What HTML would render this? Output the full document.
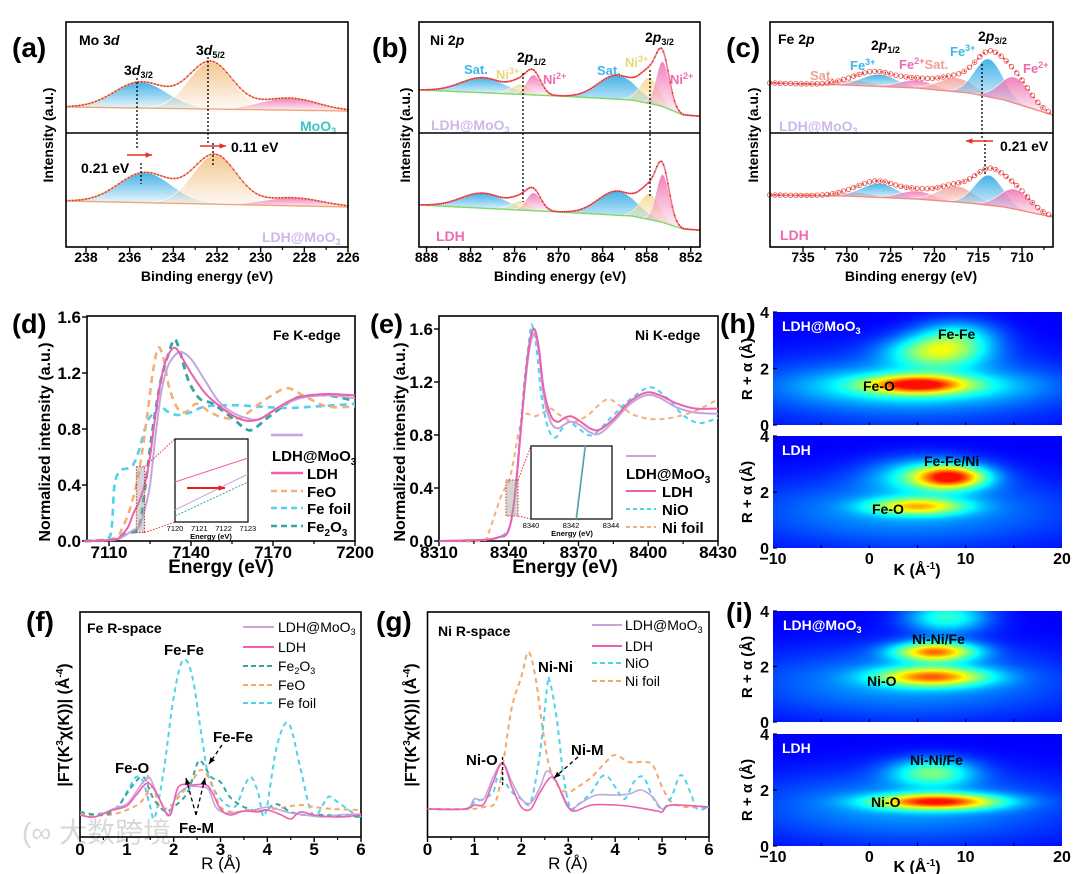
<!DOCTYPE html>
<html><head><meta charset="utf-8">
<style>
html,body{margin:0;padding:0;background:#fff;}
#wrap{position:relative;width:1080px;height:874px;overflow:hidden;font-family:"Liberation Sans",Arial,sans-serif;}
svg{position:absolute;left:0;top:0;}
canvas{position:absolute;}
text{font-family:"Liberation Sans",Arial,sans-serif;}
.b{font-weight:bold;}
</style></head>
<body>
<div id="wrap">
<canvas id="hm1" width="289" height="113" style="left:773px;top:312px"></canvas>
<canvas id="hm2" width="289" height="112" style="left:773px;top:436px"></canvas>
<canvas id="hm3" width="289" height="111" style="left:773px;top:611px"></canvas>
<canvas id="hm4" width="289" height="112" style="left:773px;top:734px"></canvas>
<svg id="fig" width="1080" height="874" viewBox="0 0 1080 874">
<defs id="defs"></defs>
<text x="22" y="842" font-size="28" fill="#d8d8d8" font-family="Liberation Sans, Noto Sans CJK SC, sans-serif">(∞ 大数跨境</text>
<text class="b" x="12" y="57" font-size="28">(a)</text>
<text class="b" x="372" y="57" font-size="28">(b)</text>
<text class="b" x="726" y="57" font-size="28">(c)</text>
<text class="b" x="12" y="333" font-size="27">(d)</text>
<text class="b" x="370" y="333" font-size="27">(e)</text>
<text class="b" x="26" y="631" font-size="28">(f)</text>
<text class="b" x="376" y="631" font-size="28">(g)</text>
<text class="b" x="720" y="333" font-size="28">(h)</text>
<text class="b" x="726" y="622" font-size="28">(i)</text>
<text class="b" font-size="14" transform="translate(53,135) rotate(-90)" text-anchor="middle">Intensity (a.u.)</text>
<text class="b" font-size="14" transform="translate(410,135) rotate(-90)" text-anchor="middle">Intensity (a.u.)</text>
<text class="b" font-size="14" transform="translate(758,135) rotate(-90)" text-anchor="middle">Intensity (a.u.)</text>
<text class="b" x="207" y="281" font-size="14" text-anchor="middle">Binding energy (eV)</text>
<text class="b" x="560" y="281" font-size="14" text-anchor="middle">Binding energy (eV)</text>
<text class="b" x="911" y="281" font-size="14" text-anchor="middle">Binding energy (eV)</text>
<text class="b" font-size="16" transform="translate(50,442) rotate(-90)" text-anchor="middle">Normalized intensity (a.u.)</text>
<text class="b" font-size="16" transform="translate(405,442) rotate(-90)" text-anchor="middle">Normalized intensity (a.u.)</text>
<text class="b" x="221" y="573" font-size="19" text-anchor="middle">Energy (eV)</text>
<text class="b" x="565" y="573" font-size="19" text-anchor="middle">Energy (eV)</text>
<text class="b" font-size="16" transform="translate(69,725) rotate(-90)" text-anchor="middle">|FT(K<tspan font-size="10" dy="-6">3</tspan><tspan dy="6">χ(K))| (Å</tspan><tspan font-size="10" dy="-6">-4</tspan><tspan dy="6">)</tspan></text>
<text class="b" font-size="16" transform="translate(416,725) rotate(-90)" text-anchor="middle">|FT(K<tspan font-size="10" dy="-6">3</tspan><tspan dy="6">χ(K))| (Å</tspan><tspan font-size="10" dy="-6">-4</tspan><tspan dy="6">)</tspan></text>
<text x="221" y="869" font-size="17" text-anchor="middle">R (Å)</text>
<text x="568" y="869" font-size="17" text-anchor="middle">R (Å)</text>
<text class="b" font-size="15" transform="translate(752,369) rotate(-90)" text-anchor="middle">R + α (Å)</text>
<text class="b" font-size="15" transform="translate(752,492) rotate(-90)" text-anchor="middle">R + α (Å)</text>
<text class="b" font-size="15" transform="translate(752,667) rotate(-90)" text-anchor="middle">R + α (Å)</text>
<text class="b" font-size="15" transform="translate(752,790) rotate(-90)" text-anchor="middle">R + α (Å)</text>
<text class="b" x="917" y="575" font-size="16" text-anchor="middle">K (Å<tspan font-size="10" dy="-6">-1</tspan><tspan dy="6">)</tspan></text>
<text class="b" x="917" y="872" font-size="16" text-anchor="middle">K (Å<tspan font-size="10" dy="-6">-1</tspan><tspan dy="6">)</tspan></text>
<text class="b" x="79" y="45" font-size="14">Mo 3<tspan font-style="italic">d</tspan></text>
<text class="b" x="124" y="75" font-size="14">3<tspan font-style="italic">d</tspan><tspan font-size="9" dy="3">3/2</tspan></text>
<text class="b" x="196" y="55" font-size="14">3<tspan font-style="italic">d</tspan><tspan font-size="9" dy="3">5/2</tspan></text>
<text class="b" x="300" y="131" font-size="14" fill="#3cc4c8">MoO<tspan font-size="9" dy="3">3</tspan></text>
<text class="b" x="262" y="242" font-size="14" fill="#cdb8ea">LDH@MoO<tspan font-size="9" dy="3">3</tspan></text>
<text class="b" x="81" y="173" font-size="14">0.21 eV</text>
<text class="b" x="231" y="152" font-size="14">0.11 eV</text>
<text class="b" x="430" y="45" font-size="14">Ni 2<tspan font-style="italic">p</tspan></text>
<text class="b" x="517" y="62" font-size="14">2<tspan font-style="italic">p</tspan><tspan font-size="9" dy="3">1/2</tspan></text>
<text class="b" x="645" y="42" font-size="14">2<tspan font-style="italic">p</tspan><tspan font-size="9" dy="3">3/2</tspan></text>
<text class="b" x="464" y="74" font-size="13" fill="#3cb7e8">Sat.</text>
<text class="b" x="496" y="79" font-size="13" fill="#e8d77a">Ni<tspan font-size="9" dy="-5">3+</tspan></text>
<text class="b" x="543" y="84" font-size="13" fill="#ee6ab0">Ni<tspan font-size="9" dy="-5">2+</tspan></text>
<text class="b" x="597" y="75" font-size="13" fill="#3cb7e8">Sat.</text>
<text class="b" x="625" y="67" font-size="13" fill="#e8d77a">Ni<tspan font-size="9" dy="-5">3+</tspan></text>
<text class="b" x="670" y="84" font-size="13" fill="#ee6ab0">Ni<tspan font-size="9" dy="-5">2+</tspan></text>
<text class="b" x="431" y="130" font-size="14" fill="#cdb8ea">LDH@MoO<tspan font-size="9" dy="3">3</tspan></text>
<text class="b" x="436" y="241" font-size="14" fill="#ee6ab0">LDH</text>
<text class="b" x="778" y="44" font-size="14">Fe 2<tspan font-style="italic">p</tspan></text>
<text class="b" x="871" y="50" font-size="14">2<tspan font-style="italic">p</tspan><tspan font-size="9" dy="3">1/2</tspan></text>
<text class="b" x="978" y="41" font-size="14">2<tspan font-style="italic">p</tspan><tspan font-size="9" dy="3">3/2</tspan></text>
<text class="b" x="850" y="70" font-size="13" fill="#3cb7e8">Fe<tspan font-size="9" dy="-5">3+</tspan></text>
<text class="b" x="899" y="69" font-size="13" fill="#ee6ab0">Fe<tspan font-size="9" dy="-5">2+</tspan><tspan dy="5" fill="#f0a09a">Sat.</tspan></text>
<text class="b" x="810" y="80" font-size="13" fill="#f0a09a">Sat.</text>
<text class="b" x="950" y="56" font-size="13" fill="#3cb7e8">Fe<tspan font-size="9" dy="-5">3+</tspan></text>
<text class="b" x="1023" y="73" font-size="13" fill="#ee6ab0">Fe<tspan font-size="9" dy="-5">2+</tspan></text>
<text class="b" x="779" y="131" font-size="14" fill="#cdb8ea">LDH@MoO<tspan font-size="9" dy="3">3</tspan></text>
<text class="b" x="780" y="240" font-size="14" fill="#ee6ab0">LDH</text>
<text class="b" x="1000" y="151" font-size="14">0.21 eV</text>
<text class="b" x="273" y="340" font-size="14">Fe K-edge</text>
<text class="b" x="635" y="340" font-size="14">Ni K-edge</text>
<text x="87" y="633" font-size="14" class="b">Fe R-space</text>
<text x="164" y="655" font-size="15" class="b">Fe-Fe</text>
<text x="115" y="773" font-size="15" class="b">Fe-O</text>
<text x="213" y="742" font-size="15" class="b">Fe-Fe</text>
<text x="179" y="833" font-size="15" class="b">Fe-M</text>
<text x="438" y="636" font-size="14" class="b">Ni R-space</text>
<text x="538" y="672" font-size="15" class="b">Ni-Ni</text>
<text x="466" y="765" font-size="15" class="b">Ni-O</text>
<text x="571" y="755" font-size="15" class="b">Ni-M</text>
<text class="b" x="782" y="331" font-size="14" fill="#fff">LDH@MoO<tspan font-size="9" dy="3">3</tspan></text>
<text class="b" x="938" y="339" font-size="14">Fe-Fe</text>
<text class="b" x="863" y="391" font-size="14">Fe-O</text>
<text class="b" x="782" y="455" font-size="14" fill="#fff">LDH</text>
<text class="b" x="924" y="466" font-size="14">Fe-Fe/Ni</text>
<text class="b" x="872" y="514" font-size="14">Fe-O</text>
<text class="b" x="783" y="630" font-size="14" fill="#fff">LDH@MoO<tspan font-size="9" dy="3">3</tspan></text>
<text class="b" x="912" y="644" font-size="14">Ni-Ni/Fe</text>
<text class="b" x="867" y="686" font-size="14">Ni-O</text>
<text class="b" x="782" y="753" font-size="14" fill="#fff">LDH</text>
<text class="b" x="910" y="765" font-size="14">Ni-Ni/Fe</text>
<text class="b" x="871" y="807" font-size="14">Ni-O</text>
</svg>
</div>
<script>
// ================= DATA =================
const aCenters=[235.5,232.3,228.7];
const aTopHeights=[26,47,12];
const aBotCenters=[235.3,232.1,228.5];
const aBotHeights=[30,49,8];
const aSigmas=[1.2,1.0,1.3];
const aBgX=[238.9,226];
const aTopBg=[4,0];
const aBotBg=[6,0];
const bCenters=[880.3,875.2,873.4,862.0,857.6,855.8];
const bTopHeights=[15,10,20,24,26,45];
const bBotHeights=[15,9,18,24,26,48];
const bSigmas=[3.0,1.3,1.0,2.6,1.3,0.9];
const bBgX=[889,870,860,856,853,851];
const bTopBg=[26,20,16,10,1,0];
const bBotBg=[25,18,14,8,1,0];
const cCenters=[729,726.3,722,717.5,713.8,710.8];
const cTopHeights=[5,12,8,14,38,26];
const cBotHeights=[4,14,8,16,30,20];
const cSigmas=[2,2,2,2,1.6,1.7];
const cBgX=[738.8,730,722,716,712,706.5];
const cTopBg=[32,30,27,22,15,0];
const cBotBg=[22,21,18,14,10,0];
const dLdhE=[7101,7112,7115,7117,7119,7121,7123,7125,7127,7129,7131,7134,7137,7140,7145,7150,7155,7160,7165,7170,7175,7180,7190,7200];
const dLdhY=[0,0.01,0.05,0.1,0.2,0.28,0.4,0.6,0.9,1.15,1.3,1.38,1.3,1.2,1.06,0.97,0.9,0.86,0.87,0.93,0.99,1.03,1.05,1.04];
const dMoE=[7101,7112,7115,7119,7121,7123,7125,7127,7129,7131,7133,7136,7140,7145,7150,7155,7160,7165,7172,7180,7190,7200];
const dMoY=[0,0.01,0.03,0.08,0.1,0.22,0.4,0.75,1.05,1.22,1.3,1.35,1.3,1.15,1.0,0.92,0.88,0.87,0.95,1.02,1.04,1.02];
const dFeOE=[7101,7112,7115,7118,7121,7124,7126,7128,7130,7132,7135,7138,7142,7147,7152,7158,7165,7172,7176,7182,7190,7200];
const dFeOY=[0,0.02,0.1,0.25,0.5,0.9,1.2,1.38,1.3,1.1,0.95,0.92,0.98,0.92,0.88,0.88,0.98,1.07,1.09,1.03,0.96,0.96];
const dFoilE=[7101,7109,7111,7112,7114,7117,7119,7121,7124,7127,7129,7131,7135,7140,7145,7155,7165,7175,7185,7200];
const dFoilY=[0,0.01,0.1,0.4,0.5,0.52,0.55,0.65,0.85,0.93,0.97,0.93,0.9,0.92,0.96,0.97,0.96,0.95,0.96,0.98];
const dFe2O3E=[7101,7112,7115,7118,7121,7123,7126,7129,7132,7134,7136,7139,7143,7148,7155,7160,7163,7168,7175,7180,7190,7200];
const dFe2O3Y=[0,0.01,0.04,0.06,0.1,0.35,0.8,1.15,1.35,1.44,1.35,1.15,1.02,0.98,0.88,0.8,0.8,0.88,0.98,1.03,1.04,1.0];
const eLdhE=[8310,8330,8336,8339,8341,8343,8345,8347,8349,8351,8353,8355,8358,8361,8364,8367,8371,8375,8379,8385,8392,8399,8405,8412,8420,8430];
const eLdhY=[0,0.01,0.03,0.05,0.15,0.4,0.8,1.2,1.5,1.6,1.45,1.15,0.95,0.9,0.93,0.94,0.9,0.85,0.84,0.92,1.05,1.12,1.1,1.04,1.0,1.0];
const eMoY=[0,0.01,0.03,0.05,0.15,0.4,0.8,1.18,1.46,1.56,1.42,1.1,0.9,0.85,0.88,0.9,0.87,0.82,0.81,0.9,1.03,1.1,1.08,1.01,0.97,0.96];
const eNiOE=[8310,8330,8338,8341,8343,8345,8347,8349,8350,8352,8354,8357,8360,8363,8366,8370,8376,8385,8393,8401,8408,8415,8422,8430];
const eNiOY=[0,0.01,0.05,0.15,0.42,0.85,1.25,1.55,1.63,1.45,1.1,0.85,0.78,0.85,0.9,0.85,0.8,0.95,1.08,1.16,1.08,0.95,0.89,0.93];
const eFoilE=[8310,8328,8331,8334,8337,8340,8342,8344,8346,8348,8351,8355,8358,8362,8368,8374,8379,8383,8388,8394,8402,8410,8420,8430];
const eFoilY=[0,0,0.05,0.2,0.35,0.45,0.6,0.8,0.93,0.96,0.94,0.97,1.0,0.95,0.9,0.95,1.03,1.07,1.02,0.95,0.92,0.93,0.98,1.07];
const fMoR=[0,0.3,0.7,1.0,1.2,1.45,1.6,1.8,1.9,2.05,2.3,2.6,2.75,2.9,3.1,3.4,3.7,4.0,4.2,4.5,4.8,5.2,5.5,6];
const fMoY=[0.22,0.2,0.28,0.33,0.45,0.6,0.48,0.27,0.22,0.4,0.5,0.5,0.47,0.3,0.24,0.25,0.27,0.3,0.28,0.24,0.22,0.2,0.22,0.23];
const fLdhR=[0,0.3,0.7,1.0,1.2,1.45,1.65,1.85,1.95,2.1,2.4,2.7,2.85,3.0,3.2,3.5,3.8,4.0,4.3,4.5,4.7,5.0,5.5,6];
const fLdhY=[0.22,0.2,0.27,0.31,0.42,0.54,0.42,0.24,0.24,0.5,0.52,0.52,0.42,0.28,0.22,0.26,0.25,0.27,0.22,0.18,0.25,0.22,0.2,0.22];
const fFe2O3R=[0,0.5,0.8,1.1,1.35,1.55,1.8,2.0,2.3,2.5,2.6,2.8,3.0,3.2,3.5,3.8,4.0,4.2,4.5,4.8,5.2,6];
const fFe2O3Y=[0.25,0.22,0.3,0.5,0.6,0.4,0.26,0.3,0.45,0.73,0.75,0.6,0.55,0.4,0.3,0.26,0.28,0.33,0.25,0.22,0.22,0.2];
const fFeOR=[0,0.6,1.0,1.3,1.55,1.7,1.9,2.2,2.45,2.6,2.8,3.0,3.3,3.6,4.0,4.4,4.7,5.0,5.4,6];
const fFeOY=[0.22,0.22,0.27,0.35,0.5,0.3,0.3,0.45,0.6,0.67,0.55,0.3,0.25,0.27,0.27,0.3,0.32,0.3,0.28,0.27];
const fFoilR=[0,0.5,0.8,1.0,1.2,1.35,1.5,1.6,1.8,2.0,2.2,2.4,2.6,2.75,3.0,3.3,3.5,3.65,3.8,3.95,4.2,4.45,4.7,4.9,5.05,5.3,5.5,5.8,6];
const fFoilY=[0.22,0.24,0.3,0.45,0.6,0.55,0.3,0.2,0.7,1.4,1.77,1.6,1.0,0.6,0.38,0.3,0.5,0.6,0.45,0.22,0.9,1.14,0.7,0.3,0.22,0.4,0.35,0.25,0.2];
const gMoR=[0,0.8,1.0,1.2,1.4,1.6,1.8,2.0,2.2,2.4,2.55,2.75,2.9,3.05,3.3,3.6,4.0,4.3,4.55,4.8,5.0,5.2,6];
const gMoY=[0.28,0.28,0.38,0.38,0.6,0.74,0.55,0.38,0.34,0.5,0.66,0.55,0.38,0.28,0.35,0.42,0.42,0.43,0.47,0.4,0.28,0.32,0.3];
const gLdhR=[0,0.8,1.0,1.2,1.4,1.6,1.8,2.0,2.2,2.4,2.65,2.85,3.0,3.15,3.5,4.0,4.4,4.9,5.0,5.2,6];
const gLdhY=[0.28,0.28,0.32,0.33,0.55,0.74,0.5,0.3,0.28,0.45,0.6,0.45,0.3,0.26,0.32,0.32,0.3,0.26,0.25,0.32,0.3];
const gNiOR=[0,0.8,1.0,1.2,1.4,1.5,1.65,1.8,2.0,2.2,2.4,2.55,2.6,2.75,2.9,3.05,3.2,3.5,3.7,3.85,4.0,4.2,4.4,4.6,4.8,5.0,5.2,5.4,5.6,5.75,6];
const gNiOY=[0.28,0.28,0.35,0.38,0.45,0.6,0.55,0.45,0.38,0.35,0.85,1.5,1.57,1.2,0.6,0.28,0.32,0.45,0.6,0.6,0.5,0.38,0.55,0.6,0.4,0.28,0.4,0.62,0.45,0.28,0.3];
const gFoilR=[0,0.9,1.2,1.45,1.6,1.8,2.0,2.15,2.3,2.45,2.6,2.8,3.0,3.2,3.5,3.8,4.0,4.3,4.6,4.8,5.0,5.2,5.5,6];
const gFoilY=[0.28,0.28,0.3,0.35,0.7,1.3,1.6,1.85,1.6,1.1,0.7,0.5,0.45,0.5,0.6,0.75,0.82,0.75,0.75,0.72,0.5,0.35,0.3,0.3];
// wavelet blobs: k-center, R-center, amplitude, sigma-k, sigma-R
const h1K=[5,5,7,9,4];   const h1R=[1.45,1.4,2.6,3.2,1.3]; const h1A=[0.5,0.18,0.38,0.22,0.16]; const h1SK=[3.5,8,3.5,3,12]; const h1SR=[0.22,0.4,0.4,0.4,0.9];
const h2K=[5,8.5,6,4];     const h2R=[1.5,2.55,2.6,1.3];  const h2A=[0.42,0.55,0.25,0.16]; const h2SK=[3.5,2.5,4,12]; const h2SR=[0.22,0.28,0.45,0.9];
const i1K=[6.5,6.8,8,4];   const i1R=[1.65,2.55,3.8,1.4]; const i1A=[0.52,0.58,0.3,0.16]; const i1SK=[4,3,3,12]; const i1SR=[0.25,0.25,0.4,0.9];
const i2K=[7,6.5,4];       const i2R=[1.6,2.65,1.4];      const i2A=[0.62,0.32,0.16]; const i2SK=[4.5,3,12]; const i2SR=[0.2,0.35,0.9];

// ================= HELPERS =================
const NS='http://www.w3.org/2000/svg';
const svg=document.getElementById('fig');
const defs=document.getElementById('defs');
function mk(tag,parent){const e=document.createElementNS(NS,tag);(parent||svg).appendChild(e);return e;}
function lin(d0,d1,r0,r1){return v=>r0+(v-d0)*(r1-r0)/(d1-d0);}
function smooth(pts){
  let d='M'+pts[0][0].toFixed(1)+','+pts[0][1].toFixed(1);
  for(let i=0;i<pts.length-1;i++){
    const p0=pts[i-1]||pts[i],p1=pts[i],p2=pts[i+1],p3=pts[i+2]||p2;
    const t=1/6;
    d+=' C'+(p1[0]+(p2[0]-p0[0])*t).toFixed(1)+','+(p1[1]+(p2[1]-p0[1])*t).toFixed(1)+' '+(p2[0]-(p3[0]-p1[0])*t).toFixed(1)+','+(p2[1]-(p3[1]-p1[1])*t).toFixed(1)+' '+p2[0].toFixed(1)+','+p2[1].toFixed(1);
  }
  return d;
}
function interp(xs,vs,x){
  for(let i=0;i<xs.length-1;i++){
    const a=xs[i],b=xs[i+1];
    if((x-a)*(x-b)<=0){const t=(x-a)/(b-a);return vs[i]+t*(vs[i+1]-vs[i]);}
  }
  return x>Math.max(xs[0],xs[xs.length-1])===(xs[0]>xs[xs.length-1])?vs[0]:vs[vs.length-1];
}
function gauss(x,c,h,s){return h*Math.exp(-(x-c)*(x-c)/(2*s*s));}
let gid=0;
function grad(color){
  const g=mk('linearGradient',defs);const id='g'+(gid++);
  g.setAttribute('id',id);g.setAttribute('x1','0');g.setAttribute('y1','0');g.setAttribute('x2','0');g.setAttribute('y2','1');
  const s1=mk('stop',g);s1.setAttribute('offset','0');s1.setAttribute('stop-color',color);s1.setAttribute('stop-opacity','0.95');
  const s2=mk('stop',g);s2.setAttribute('offset','1');s2.setAttribute('stop-color',color);s2.setAttribute('stop-opacity','0.08');
  return 'url(#'+id+')';
}
function line(x1,y1,x2,y2,stroke,w,dash){
  const l=mk('line');l.setAttribute('x1',x1);l.setAttribute('y1',y1);l.setAttribute('x2',x2);l.setAttribute('y2',y2);
  l.setAttribute('stroke',stroke);l.setAttribute('stroke-width',w);if(dash)l.setAttribute('stroke-dasharray',dash);
  return l;
}
function txt(x,y,s,size,anchor,bold){
  const t=mk('text');t.setAttribute('x',x);t.setAttribute('y',y);t.setAttribute('font-size',size);
  t.setAttribute('text-anchor',anchor||'middle');if(bold)t.setAttribute('font-weight','bold');t.textContent=s;return t;
}
function frame(x0,y0,x1,y1,name){
  const r=mk('rect');r.setAttribute('x',x0);r.setAttribute('y',y0);r.setAttribute('width',x1-x0);r.setAttribute('height',y1-y0);
  r.setAttribute('fill','none');r.setAttribute('stroke','#000');r.setAttribute('stroke-width','1.6');
  
  
  return r;
}
function xTicks(sx,y,majors,minors,labelY,size,name){
  majors.forEach(v=>{
    const l=line(sx(v),y,sx(v),y+5,'#000',1.4);
    
    
    const t=txt(sx(v),labelY,String(v),size,'middle',true);
    
    
  });
  minors.forEach(v=>{const l=line(sx(v),y,sx(v),y+3,'#000',1.2);
    
    });
}
function yTicks(sy,x,vals,labels,size,name){
  vals.forEach((v,i)=>{
    const l=line(x-5,sy(v),x,sy(v),'#000',1.4);
    
    
    const t=txt(x-6,sy(v)+size*0.36,labels[i],size,'end',true);
    
    
  });
}
function seriesPath(xs,ys,sx,sy,color,w,dash,name){
  const pts=xs.map((x,i)=>[sx(x),sy(ys[i])]);
  const p=mk('path');p.setAttribute('d',smooth(pts));p.setAttribute('fill','none');
  p.setAttribute('stroke',color);p.setAttribute('stroke-width',w);if(dash)p.setAttribute('stroke-dasharray',dash);
  p.setAttribute('stroke-linejoin','round');
  
  
  return p;
}

// ================= XPS =================
function drawXPS(o){
  const sx=o.sx, x0=o.dom[0], x1=o.dom[1];
  const sy=v=>o.base-v;
  const N=Math.round(Math.abs(x0-x1)/0.05);
  const xs=[];for(let i=0;i<=N;i++)xs.push(x0+(x1-x0)*i/N);
  const bg=xs.map(x=>interp(o.bgX,o.bg,x));
  o.centers.forEach((c,k)=>{
    const ptsTop=[],ptsBot=[];
    xs.forEach((x,i)=>{const g=gauss(x,c,o.heights[k],o.sigmas[k]);if(g>0.3){ptsTop.push([sx(x),sy(bg[i]+g)]);ptsBot.push([sx(x),sy(bg[i])]);}});
    if(!ptsTop.length)return;
    const d='M'+ptsTop.map(p=>p[0].toFixed(1)+','+p[1].toFixed(1)).join(' L')+' L'+ptsBot.reverse().map(p=>p[0].toFixed(1)+','+p[1].toFixed(1)).join(' L')+'Z';
    const p=mk('path');p.setAttribute('d',d);p.setAttribute('fill',grad(o.colors[k]));p.setAttribute('stroke','#fff');p.setAttribute('stroke-width','0.6');
    
    
  });
  const bp=mk('path');bp.setAttribute('d','M'+xs.map((x,i)=>sx(x).toFixed(1)+','+sy(bg[i]).toFixed(1)).join(' L'));
  bp.setAttribute('fill','none');bp.setAttribute('stroke',o.bgColor);bp.setAttribute('stroke-width','1.4');
  
  
  const env=xs.map((x,i)=>bg[i]+o.centers.reduce((s,c,k)=>s+gauss(x,c,o.heights[k],o.sigmas[k]),0));
  const ep=mk('path');ep.setAttribute('d','M'+xs.map((x,i)=>sx(x).toFixed(1)+','+sy(env[i]).toFixed(1)).join(' L'));
  ep.setAttribute('fill','none');ep.setAttribute('stroke',o.envColor);ep.setAttribute('stroke-width',o.envW||1.6);
  if(o.envDash)ep.setAttribute('stroke-dasharray',o.envDash);
  
  
  for(let i=0;i<xs.length;i+=o.markerStep){
    const c=mk('circle');c.setAttribute('cx',sx(xs[i]).toFixed(1));c.setAttribute('cy',sy(env[i]).toFixed(1));
    if(o.open){c.setAttribute('r','2.3');c.setAttribute('fill','none');c.setAttribute('stroke','#e8564f');c.setAttribute('stroke-width','0.8');}
    else{c.setAttribute('r','0.9');c.setAttribute('fill','#e03030');}
    
    
  }
}
const sxA=lin(238,226,86,348);
drawXPS({name:'a-moo3',sx:sxA,dom:[238.9,226],base:111,bgX:aBgX,bg:aTopBg,centers:aCenters,heights:aTopHeights,sigmas:aSigmas,colors:['#3aaee6','#f3c48d','#f07ab8'],bgColor:'#f2a575',envColor:'#f0a070',markerStep:3});
drawXPS({name:'a-ldh-moo3',sx:sxA,dom:[238.9,226],base:207,bgX:aBgX,bg:aBotBg,centers:aBotCenters,heights:aBotHeights,sigmas:aSigmas,colors:['#3aaee6','#f3c48d','#f07ab8'],bgColor:'#f2a575',envColor:'#f0a070',markerStep:3});
frame(66,22,348,247,'plot-frame-a');line(66,133,348,133,'#000',1.4);
xTicks(sxA,247,[238,236,234,232,230,228,226],[237,235,233,231,229,227],262,14,'x-axis-a');
const sxB=lin(888,852,426.5,690.7);
const bCols=['#3aaee6','#f5dc96','#f07ab8','#3aaee6','#f5dc96','#f07ab8'];
drawXPS({name:'b-ldh-moo3',sx:sxB,dom:[889,850.8],base:116,bgX:bBgX,bg:bTopBg,centers:bCenters,heights:bTopHeights,sigmas:bSigmas,colors:bCols,bgColor:'#7fd86a',envColor:'#ee7a85',markerStep:6});
drawXPS({name:'b-ldh',sx:sxB,dom:[889,850.8],base:230,bgX:bBgX,bg:bBotBg,centers:bCenters,heights:bBotHeights,sigmas:bSigmas,colors:bCols,bgColor:'#7fd86a',envColor:'#ee7a85',markerStep:6});
frame(419,22,700,247,'plot-frame-b');line(419,133,700,133,'#000',1.4);
xTicks(sxB,247,[888,882,876,870,864,858,852],[885,879,873,867,861,855],262,14,'x-axis-b');
const sxC=lin(735,710,803,1022);
const cCols=['#f3a6a0','#3aaee6','#f07ab8','#f3a6a0','#3aaee6','#f07ab8'];
drawXPS({name:'c-ldh-moo3',sx:sxC,dom:[738.8,706.5],base:115,bgX:cBgX,bg:cTopBg,centers:cCenters,heights:cTopHeights,sigmas:cSigmas,colors:cCols,bgColor:'#f08a84',envColor:'#e03030',envW:2,envDash:'1.5 3',markerStep:12,open:true});
drawXPS({name:'c-ldh',sx:sxC,dom:[738.8,706.5],base:217,bgX:cBgX,bg:cBotBg,centers:cCenters,heights:cBotHeights,sigmas:cSigmas,colors:cCols,bgColor:'#f08a84',envColor:'#e03030',envW:2,envDash:'1.5 3',markerStep:12,open:true});
frame(770,22,1053,247,'plot-frame-c');line(770,133,1053,133,'#000',1.4);
xTicks(sxC,247,[735,730,725,720,715,710],[732.5,727.5,722.5,717.5,712.5,707.5],262,14,'x-axis-c');
[[137,78,137,150],[141,163,141,184],[208,57,208,143],[213,143,213,165],[523,73,523,202],[650,70,650,198],[982,64,982,140],[985,140,985,176]].forEach(a=>{
  const l=line(a[0],a[1],a[2],a[3],'#000',1.3,'2 2');
  
  
});
function arrow(x1,y1,x2,y2,color,w,dash,name){
  const l=line(x1,y1,x2,y2,color,w,dash);
  
  
  const ang=Math.atan2(y2-y1,x2-x1),s=7;
  const p=mk('polygon');
  p.setAttribute('points',[x2,y2,x2-s*Math.cos(ang-0.4),y2-s*Math.sin(ang-0.4),x2-s*Math.cos(ang+0.4),y2-s*Math.sin(ang+0.4)].map(v=>v.toFixed(1)).join(' '));
  p.setAttribute('fill',color);
  
  
}
arrow(127,155,152,155,'#e8302a',1.6,null,'shift-arrow-3d32');
arrow(200,146,226,146,'#e8302a',1.6,null,'shift-arrow-3d52');
arrow(993,141,966,141,'#e8302a',1.6,null,'shift-arrow-fe2p');

// ================= XANES (d) =================
const sxD=lin(7110,7200,109,355), syD=lin(0,1.6,541,317);
frame(87,316,355,541,'plot-frame-d');
xTicks(sxD,541,[7110,7140,7170,7200],[7125,7155,7185],558,17,'x-axis-d');
yTicks(syD,87,[0,0.4,0.8,1.2,1.6],['0.0','0.4','0.8','1.2','1.6'],17,'y-axis-d');
seriesPath(dFoilE,dFoilY,sxD,syD,'#4fd2ee',2.6,'7 5','series-fe-foil');
seriesPath(dFeOE,dFeOY,sxD,syD,'#f4b07a',2.6,'7 5','series-feo');
seriesPath(dFe2O3E,dFe2O3Y,sxD,syD,'#34a8a0',2.8,'7 5','series-fe2o3');
seriesPath(dMoE,dMoY,sxD,syD,'#c4a6dc',2,null,'series-ldh-moo3-d');
seriesPath(dLdhE,dLdhY,sxD,syD,'#ee5fae',2,null,'series-ldh-d');
(function(){
  const r=mk('rect');r.setAttribute('x',sxD(7120));r.setAttribute('y',syD(0.53));r.setAttribute('width',sxD(7123)-sxD(7120));r.setAttribute('height',syD(0.06)-syD(0.53));
  r.setAttribute('fill','rgba(160,160,160,0.45)');r.setAttribute('stroke','#e03030');r.setAttribute('stroke-dasharray','1.5 1.5');
  
  
  line(sxD(7123),syD(0.53),175,439,'#e03030',1,'1.5 1.5');
  line(sxD(7123),syD(0.06),175,522,'#e03030',1,'1.5 1.5');
  const ib=mk('rect');ib.setAttribute('x',175);ib.setAttribute('y',439);ib.setAttribute('width',73);ib.setAttribute('height',83);ib.setAttribute('fill','#fff');ib.setAttribute('stroke','#000');ib.setAttribute('stroke-width','1.2');
  
  
  line(175,482,248,458,'#ee5fae',1);
  line(175,510,248,474,'#c4a6dc',1);
  line(175,516,248,482,'#34a8a0',1,'2 1.5');
  arrow(187,488,225,488,'#e8201a',2,null,'inset-shift-arrow');
  [7120,7121,7122,7123].forEach((v,i)=>{const t=txt(175+i*24.3,531,String(v),7.5,'middle',false);});
  const t=txt(211,539,'Energy (eV)',7.5,'middle',true);
})();
(function(){
  const items=[['LDH@MoO3','#c4a6dc',null,435],['LDH','#ee5fae',null,473],['FeO','#f4b07a','6 4',491],['Fe foil','#4fd2ee','6 4',508],['Fe2O3','#34a8a0','6 4',526]];
  items.forEach(it=>{
    const l=line(271,it[3],303,it[3],it[1],2.4,it[2]);
    
    
  });
  const labs=[['LDH@MoO',272,461,'3'],['LDH',307,479],['FeO',307,497],['Fe foil',307,514],['Fe',307,532,'2','O','3']];
  labs.forEach(a=>{
    const t=mk('text');t.setAttribute('x',a[1]);t.setAttribute('y',a[2]);t.setAttribute('font-size','15');t.setAttribute('font-weight','bold');
    t.textContent=a[0];
    if(a[3]){const s=mk('tspan',t);s.setAttribute('font-size','10');s.setAttribute('dy','4');s.textContent=a[3];}
    if(a[4]){const s=mk('tspan',t);s.setAttribute('dy','-4');s.textContent=a[4];const s2=mk('tspan',t);s2.setAttribute('font-size','10');s2.setAttribute('dy','4');s2.textContent=a[5];}
    
    
  });
})();

// ================= XANES (e) =================
const sxE=lin(8310,8430,439,718), syE=lin(0,1.6,541,329);
frame(439,316,718,541,'plot-frame-e');
xTicks(sxE,541,[8310,8340,8370,8400,8430],[8325,8355,8385,8415],558,17,'x-axis-e');
yTicks(syE,439,[0,0.4,0.8,1.2,1.6],['0.0','0.4','0.8','1.2','1.6'],17,'y-axis-e');
seriesPath(eFoilE,eFoilY,sxE,syE,'#f4b07a',2,'5 4','series-ni-foil');
seriesPath(eNiOE,eNiOY,sxE,syE,'#4fd2ee',2,'5 4','series-nio');
seriesPath(eLdhE,eMoY,sxE,syE,'#c4a6dc',2,null,'series-ldh-moo3-e');
seriesPath(eLdhE,eLdhY,sxE,syE,'#ee5fae',2,null,'series-ldh-e');
(function(){
  const r=mk('rect');r.setAttribute('x',506);r.setAttribute('y',480);r.setAttribute('width',12);r.setAttribute('height',36);
  r.setAttribute('fill','rgba(160,160,160,0.45)');r.setAttribute('stroke','#e03030');r.setAttribute('stroke-dasharray','1.5 1.5');
  
  
  line(518,480,531,446,'#e03030',1,'1.5 1.5');line(518,516,531,519,'#e03030',1,'1.5 1.5');
  const ib=mk('rect');ib.setAttribute('x',531);ib.setAttribute('y',446);ib.setAttribute('width',81);ib.setAttribute('height',73);ib.setAttribute('fill','#fff');ib.setAttribute('stroke','#000');ib.setAttribute('stroke-width','1.2');
  
  
  line(576,519,585,446,'#c4a6dc',1.4);line(576.5,519,585.5,446,'#34a8a0',1.2);
  [8340,8342,8344].forEach((v,i)=>{const t=txt(531+i*40,528,String(v),7.5,'middle',false);});
  const t=txt(572,536,'Energy (eV)',7.5,'middle',true);
  const items=[['#c4a6dc',null,456],['#ee5fae',null,491],['#4fd2ee','4 3',509],['#f4b07a','4 3',527]];
  items.forEach(it=>{const l=line(626,it[2],656,it[2],it[0],2,it[1]);});
  const labs=[['LDH@MoO',626,479,'3'],['LDH',662,497],['NiO',662,515],['Ni foil',662,533]];
  labs.forEach(a=>{
    const t=mk('text');t.setAttribute('x',a[1]);t.setAttribute('y',a[2]);t.setAttribute('font-size','15');t.setAttribute('font-weight','bold');t.textContent=a[0];
    if(a[3]){const s=mk('tspan',t);s.setAttribute('font-size','10');s.setAttribute('dy','4');s.textContent=a[3];}
    
    
  });
})();

// ================= R-space (f) =================
const sxF=lin(0,6,80,361), syF=lin(0,1,837,737);
frame(80,612,361,837,'plot-frame-f');
xTicks(sxF,837,[0,1,2,3,4,5,6],[0.5,1.5,2.5,3.5,4.5,5.5],855,17,'x-axis-f');
seriesPath(fFoilR,fFoilY,sxF,syF,'#4fd2ee',2,'5 4','series-fe-foil-r');
seriesPath(fFeOR,fFeOY,sxF,syF,'#f4a868',2,'5 4','series-feo-r');
seriesPath(fFe2O3R,fFe2O3Y,sxF,syF,'#34a8a0',2,'5 4','series-fe2o3-r');
seriesPath(fMoR,fMoY,sxF,syF,'#c4a6dc',1.6,null,'series-ldh-moo3-f');
seriesPath(fLdhR,fLdhY,sxF,syF,'#ee5fae',1.6,null,'series-ldh-f');
(function(){
  const l=line(sxF(1.45),syF(0.62),sxF(1.45),syF(0.38),'#ee5fae',1.2,'1.5 1.5');
  arrow(196,815,186,778,'#000',1.3,'4 3','fe-m-arrow-1');
  arrow(196,815,205,778,'#000',1.3,'4 3','fe-m-arrow-2');
  arrow(222,745,209,764,'#000',1.3,'4 3','fe-fe-arrow');
  const items=[['#c4a6dc',null,627,'LDH@MoO','3'],['#ee5fae',null,647,'LDH'],['#34a8a0','5 3',666,'Fe','2','O','3'],['#f4a868','5 3',685,'FeO'],['#4fd2ee','5 3',703,'Fe foil']];
  items.forEach(it=>{
    const l=line(243,it[2],274,it[2],it[0],2,it[1]);
    const t=mk('text');t.setAttribute('x',278);t.setAttribute('y',it[2]+5);t.setAttribute('font-size','14');t.textContent=it[3];
    if(it[4]){const s=mk('tspan',t);s.setAttribute('font-size','9');s.setAttribute('dy','3');s.textContent=it[4];}
    if(it[5]){const s=mk('tspan',t);s.setAttribute('dy','-3');s.textContent=it[5];const s2=mk('tspan',t);s2.setAttribute('font-size','9');s2.setAttribute('dy','3');s2.textContent=it[6];}
    
    
  });
})();

// ================= R-space (g) =================
const sxG=lin(0,6,427.5,709), syG=lin(0,1,837,737);
frame(427.5,612,709,837,'plot-frame-g');
xTicks(sxG,837,[0,1,2,3,4,5,6],[0.5,1.5,2.5,3.5,4.5,5.5],855,17,'x-axis-g');
seriesPath(gFoilR,gFoilY,sxG,syG,'#f4a868',2,'5 4','series-ni-foil-r');
seriesPath(gNiOR,gNiOY,sxG,syG,'#4fd2ee',2,'5 4','series-nio-r');
seriesPath(gMoR,gMoY,sxG,syG,'#c4a6dc',1.6,null,'series-ldh-moo3-g');
seriesPath(gLdhR,gLdhY,sxG,syG,'#ee5fae',1.6,null,'series-ldh-g');
(function(){
  const l=line(sxG(1.6),syG(0.8),sxG(1.6),syG(0.5),'#000',1.3,'3 2');
  arrow(578,757,554,778,'#000',1.3,'4 3','ni-m-arrow');
  const items=[['#c4a6dc',null,625,'LDH@MoO','3'],['#ee5fae',null,646,'LDH'],['#4fd2ee','5 3',663,'NiO'],['#f4a868','5 3',681,'Ni foil']];
  items.forEach(it=>{
    const l=line(592,it[2],622,it[2],it[0],2,it[1]);
    const t=mk('text');t.setAttribute('x',625);t.setAttribute('y',it[2]+5);t.setAttribute('font-size','14');t.textContent=it[3];
    if(it[4]){const s=mk('tspan',t);s.setAttribute('font-size','9');s.setAttribute('dy','3');s.textContent=it[4];}
    
    
  });
})();

// ================= Wavelet heatmaps =================
function jet(v){const c=x=>Math.max(0,Math.min(1,x));return [c(1.5-Math.abs(4*v-3)),c(1.5-Math.abs(4*v-2)),c(1.5-Math.abs(4*v-1))].map(x=>Math.round(x*255));}
function heat(id,K,R,A,SK,SR){
  const cv=document.getElementById(id),ctx=cv.getContext('2d'),w=cv.width,h=cv.height;
  const img=ctx.createImageData(w,h);
  const sk=lin(0,w,-10,20), sr=lin(0,h,4,0);
  for(let y=0;y<h;y++)for(let x=0;x<w;x++){
    const k=sk(x),r=sr(y);let v=0.12;
    for(let i=0;i<K.length;i++)v+=A[i]*Math.exp(-((k-K[i])**2)/(2*SK[i]**2)-((r-R[i])**2)/(2*SR[i]**2));
    const c=jet(Math.min(v,0.86));const o=(y*w+x)*4;
    img.data[o]=c[0];img.data[o+1]=c[1];img.data[o+2]=c[2];img.data[o+3]=255;
  }
  ctx.putImageData(img,0,0);
}
heat('hm1',h1K,h1R,h1A,h1SK,h1SR);
heat('hm2',h2K,h2R,h2A,h2SK,h2SR);
heat('hm3',i1K,i1R,i1A,i1SK,i1SR);
heat('hm4',i2K,i2R,i2A,i2SK,i2SR);
const sxH=lin(-10,20,773,1062);
[[312,425],[436,548],[611,722],[734,846]].forEach((p,j)=>{
  const syH=lin(0,4,p[1],p[0]);
  [0,2,4].forEach(v=>{
    const t=txt(769,syH(v)+6,String(v),16,'end',true);
    
    
    const l=line(773,syH(v),777,syH(v),'#000',1.2);
    
    
  });
  [-5,0,5,10,15].forEach(v=>{
    const l=line(sxH(v),p[1],sxH(v),p[1]-3,'#000',1);
    
    
  });
  if(j===1||j===3){
    [-10,0,10,20].forEach(v=>{
      const t=txt(sxH(v),p[1]+16,String(v).replace('-','−'),16,'middle',true);
      
      
    });
  }
});
</script>
</body></html>
